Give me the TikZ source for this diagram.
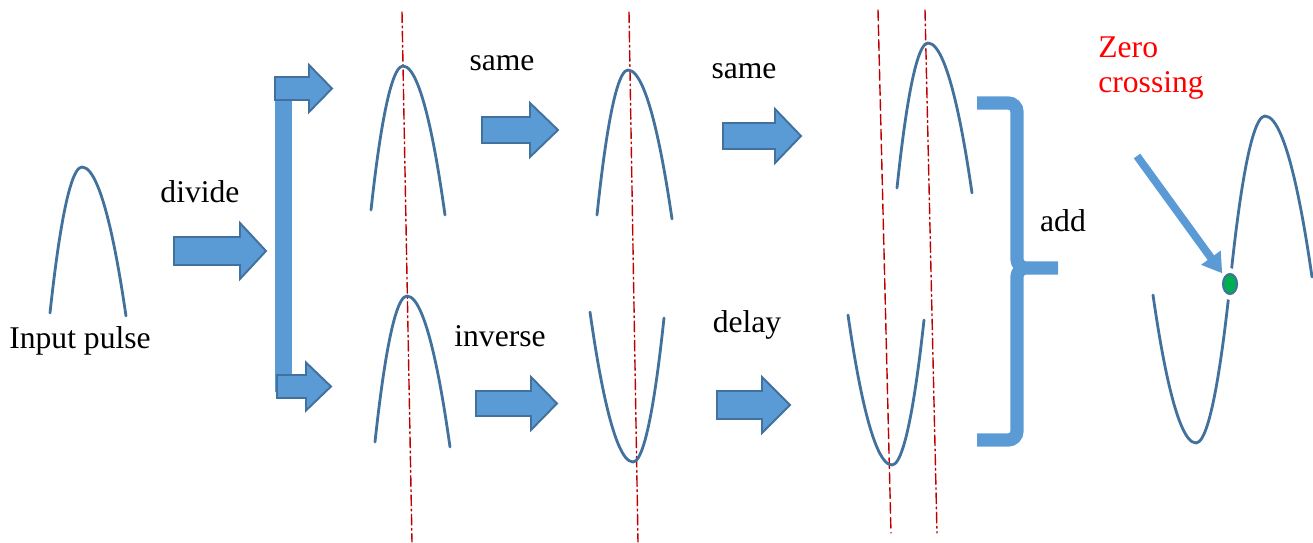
\documentclass[tikz,border=0pt]{standalone}
\usepackage{fontspec}
\setmainfont{Liberation Serif}
\usetikzlibrary{arrows.meta,shapes.geometric}

\definecolor{arrowblue}{HTML}{5B9BD5}
\definecolor{arrowedge}{HTML}{41719C}
\definecolor{pulseblue}{HTML}{41719C}
\definecolor{axisred}{HTML}{C00000}
\definecolor{dotgreen}{HTML}{00B050}

\tikzset{
  pulse/.style={draw=pulseblue,line width=1.6pt},
  blockarrow/.style={fill=arrowblue,draw=arrowedge,line width=1.1pt,line join=miter},
  centreline/.style={draw=axisred,line width=0.8pt,dash pattern=on 6pt off 2pt on 1pt off 2pt},
  shiftline/.style={draw=axisred,line width=0.8pt,dash pattern=on 6pt off 2.5pt},
  label/.style={inner sep=0pt}
}

\begin{document}
\begin{tikzpicture}[x=0.02cm,y=-0.02cm,line cap=round,line join=round,
  font=\fontsize{18}{18}\selectfont]
  \useasboundingbox (0,0) rectangle (1313,543);
  % red axes
  \draw[centreline] (402,12) -- (412,542);
  \draw[centreline] (629,12) -- (638,542);
  \draw[shiftline] (878,10) -- (891,533);
  \draw[centreline] (925,10) -- (937,533);
  % pulses
  \draw[pulse] (50,313) parabola bend (82,167) (126,316);
  \draw[pulse] (371,210) parabola bend (403,66) (445,215);
  \draw[pulse] (597,215) parabola bend (628,70) (672,219);
  \draw[pulse] (897,188) parabola bend (928,43) (972,193);
  \draw[pulse] (375,442) parabola bend (407,296) (450,447);
  \draw[pulse] (590,312) parabola bend (633,462) (664,318);
  \draw[pulse] (848,315) parabola bend (892,465) (924,320);
  \node[label] (inp) at (80,341) {Input pulse};
  % splitter bar
  \fill[arrowblue] (275,88) rectangle (292,392);
  % block arrows: tail / head base / tip / y / half shaft / half head
  \foreach \tl/\hb/\tp/\yc/\sw/\hw in {174/240/266/251/14/28, 275/309/332/88.5/11.5/23.5,
      277/306/331/386.5/11.5/24, 482/530/558/130/13/27, 476/531/557/403.5/12.5/26.5,
      723/775/801/136/13/27, 717/762/790/405/14/28}
    \draw[blockarrow] (\tl,\yc-\sw) -- (\hb,\yc-\sw) -- (\hb,\yc-\hw) -- (\tp,\yc)
      -- (\hb,\yc+\hw) -- (\hb,\yc+\sw) -- (\tl,\yc+\sw) -- cycle;
  \node[label] (divide) at (200,192) {divide};
  \node[label] (same1) at (502,63) {same};
  \node[label] (same2) at (744,71) {same};
  \node[label] (inverse) at (500,336) {inverse};
  \node[label] (delay) at (747,325) {delay};
  % adding brace
  \draw[arrowblue,line width=7.5pt,line cap=butt,line join=miter,rounded corners=5pt]
    (977,103) -- (1017,103) -- (1017,268) -- (1058,268)
    (977,440) -- (1017,440) -- (1017,268) -- (1058,268);
  \node[label] (add) at (1063,221) {add};
  % summed wave
  \draw[pulse] (1153,295) parabola bend (1196,443) (1230,284)
    parabola bend (1265,116) (1312,277);
  \fill[white] (1230,284) ellipse (0.2cm and 0.32cm);
  \node[ellipse,fill=dotgreen,draw=pulseblue,line width=1.2pt,inner sep=0pt,
    minimum width=0.28cm,minimum height=0.4cm] (zdot) at (1230,284) {};
  \node[label,anchor=north west,align=left,text=red] (zc) at (1098,36) {Zero\\[2pt]crossing};
  \coordinate (ptail) at (1137,156);
  \draw[arrowblue,line width=4.5pt,line cap=butt,
    -{Triangle[length=11pt,width=13pt]},shorten >=2pt] (ptail) -- (zdot);
\end{tikzpicture}
\end{document}
